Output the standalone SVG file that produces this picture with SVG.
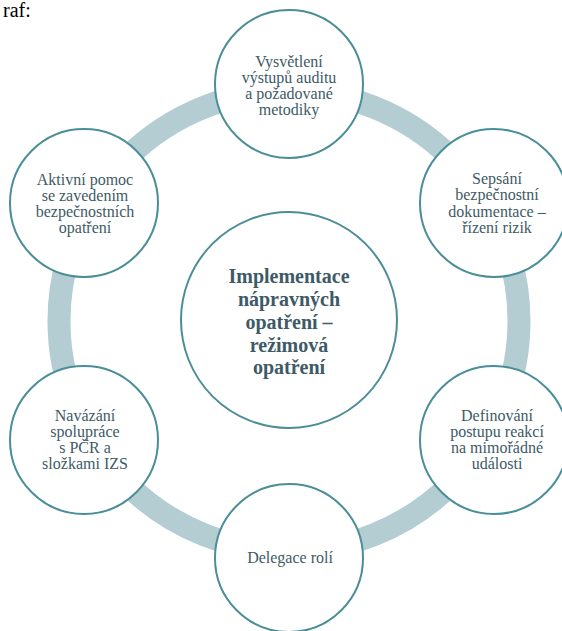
<svg xmlns="http://www.w3.org/2000/svg" width="562" height="631" viewBox="0 0 562 631">
<style>
.node{fill:#ffffff;stroke:#4a8e98;stroke-width:2}
.t{font-family:"Liberation Serif","Times New Roman",serif;font-size:16px;fill:#3e5a66;text-anchor:middle}
.tb{font-family:"Liberation Serif","Times New Roman",serif;font-size:20px;font-weight:bold;fill:#3e5a66;text-anchor:middle}
</style>
<rect width="562" height="631" fill="#ffffff"/>
<text x="3" y="17" font-family="Liberation Serif, serif" font-size="20" fill="#000000">raf:</text>
<g id="connectors">
<circle cx="289" cy="321" r="230" fill="none" stroke="#b3cdd2" stroke-width="23"/>
</g>
<g id="center">
<circle class="node" cx="289" cy="320" r="108"/>
<text class="tb"><tspan x="289" y="283">Implementace</tspan><tspan x="289" y="306">nápravných</tspan><tspan x="289" y="329">opatření –</tspan><tspan x="289" y="352">režimová</tspan><tspan x="289" y="374">opatření</tspan></text>
</g>
<g id="n-top">
<circle class="node" cx="289" cy="84" r="74"/>
<text class="t"><tspan x="289" y="67">Vysvětlení</tspan><tspan x="289" y="83">výstupů auditu</tspan><tspan x="289" y="99">a požadované</tspan><tspan x="289" y="115">metodiky</tspan></text>
</g>
<g id="n-upper-right">
<circle class="node" cx="494" cy="203" r="74"/>
<text class="t"><tspan x="497" y="184">Sepsání</tspan><tspan x="497" y="200">bezpečnostní</tspan><tspan x="497" y="217">dokumentace –</tspan><tspan x="497" y="233">řízení rizik</tspan></text>
</g>
<g id="n-lower-right">
<circle class="node" cx="494" cy="440" r="74"/>
<text class="t"><tspan x="497" y="421">Definování</tspan><tspan x="497" y="437">postupu reakcí</tspan><tspan x="497" y="453">na mimořádné</tspan><tspan x="497" y="469">události</tspan></text>
</g>
<g id="n-bottom">
<circle class="node" cx="289" cy="558" r="74"/>
<text class="t" x="290" y="563">Delegace rolí</text>
</g>
<g id="n-lower-left">
<circle class="node" cx="84" cy="440" r="74"/>
<text class="t"><tspan x="85" y="421">Navázání</tspan><tspan x="85" y="437">spolupráce</tspan><tspan x="85" y="453">s PČR a</tspan><tspan x="85" y="469">složkami IZS</tspan></text>
</g>
<g id="n-upper-left">
<circle class="node" cx="84" cy="203" r="74"/>
<text class="t"><tspan x="85" y="185">Aktivní pomoc</tspan><tspan x="85" y="201">se zavedením</tspan><tspan x="85" y="217">bezpečnostních</tspan><tspan x="85" y="233">opatření</tspan></text>
</g>
</svg>
